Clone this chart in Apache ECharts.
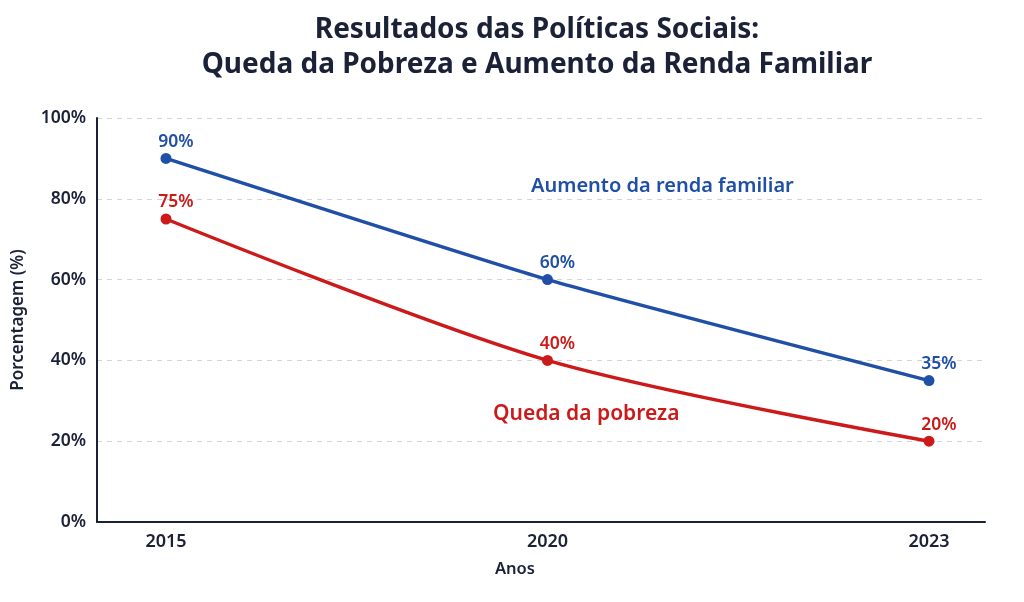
<!DOCTYPE html>
<html>
<head>
<meta charset="utf-8">
<script src="https://cdn.jsdelivr.net/npm/echarts@6/dist/echarts.min.js"></script>
<style>
html,body{margin:0;padding:0;background:#fff;}
#chart{width:1024px;height:602px;}
</style>
</head>
<body>
<div id="chart"></div>
<script>
const years = ['2015', '2020', '2023'];
const rendaFamiliar = [90, 60, 35];
const quedaPobreza = [75, 40, 20];
const yTicks = [0, 20, 40, 60, 80, 100];

const BLUE = '#1f4fa6';
const RED = '#cc1a1a';
const DARK = '#1b2136';
const FONT = '"Noto Sans", sans-serif';

const chart = echarts.init(document.getElementById('chart'));
chart.setOption({
  backgroundColor: '#ffffff',
  animation: false,
  textStyle: { fontFamily: FONT },
  title: {
    text: 'Resultados das Políticas Sociais:\nQueda da Pobreza e Aumento da Renda Familiar',
    left: 532, textAlign: 'center', top: 8,
    textStyle: { fontFamily: FONT, fontSize: 28, fontWeight: 'bold', color: DARK, lineHeight: 35 }
  },
  grid: [
    { left: 97, right: 39, top: 118, bottom: 80 },
    { left: 166, right: 95, top: 118, bottom: 80 }
  ],
  xAxis: [
    { gridIndex: 0, type: 'value', min: 0, max: 1,
      axisLine: { show: true, lineStyle: { color: DARK, width: 2 } },
      axisTick: { show: false }, axisLabel: { show: false }, splitLine: { show: false } },
    { gridIndex: 1, type: 'category', data: years, boundaryGap: false,
      axisLine: { show: false }, axisTick: { show: false }, splitLine: { show: false },
      axisLabel: { color: DARK, fontSize: 18, fontWeight: 600, margin: 11, fontFamily: FONT } }
  ],
  yAxis: [
    { gridIndex: 0, type: 'value', min: 0, max: 100, interval: 20,
      name: 'Porcentagem (%)', nameLocation: 'middle', nameGap: 70, nameRotate: 90,
      nameTextStyle: { color: DARK, fontSize: 17, fontWeight: 600, fontFamily: FONT },
      axisLine: { show: true, lineStyle: { color: DARK, width: 2 } },
      axisTick: { show: false },
      axisLabel: { formatter: v => yTicks.includes(v) ? v + '%' : '', color: DARK, fontSize: 17.5, fontWeight: 600, margin: 11, fontFamily: FONT },
      splitLine: { show: true, lineStyle: { color: '#d3d3d8', type: [5, 5], width: 1 } } },
    { gridIndex: 1, type: 'value', min: 0, max: 100, interval: 20, show: false,
      splitLine: { show: false } }
  ],
  graphic: [
    { type: 'text', left: 495, top: 561,
      style: { text: 'Anos', fill: DARK, font: '600 16.5px "Noto Sans", sans-serif' } },
    { type: 'text', left: 531, top: 176,
      style: { text: 'Aumento da renda familiar', fill: BLUE, font: '600 20px "Noto Sans", sans-serif' } },
    { type: 'text', left: 493, top: 404,
      style: { text: 'Queda da pobreza', fill: RED, font: '600 21px "Noto Sans", sans-serif' } }
  ],
  series: [
    { name: 'Aumento da renda familiar', type: 'line', xAxisIndex: 1, yAxisIndex: 1,
      data: rendaFamiliar, smooth: 0.15, symbol: 'circle', symbolSize: 11,
      lineStyle: { color: BLUE, width: 3.5 }, itemStyle: { color: BLUE },
      label: { show: true, position: 'top', offset: [10, 3], formatter: '{c}%', color: BLUE, fontSize: 17.5, fontWeight: 600, fontFamily: FONT } },
    { name: 'Queda da pobreza', type: 'line', xAxisIndex: 1, yAxisIndex: 1,
      data: quedaPobreza, smooth: 0.3, symbol: 'circle', symbolSize: 11,
      lineStyle: { color: RED, width: 3.5 }, itemStyle: { color: RED },
      label: { show: true, position: 'top', offset: [10, 3], formatter: '{c}%', color: RED, fontSize: 17.5, fontWeight: 600, fontFamily: FONT } }
  ]
});
</script>
</body>
</html>
